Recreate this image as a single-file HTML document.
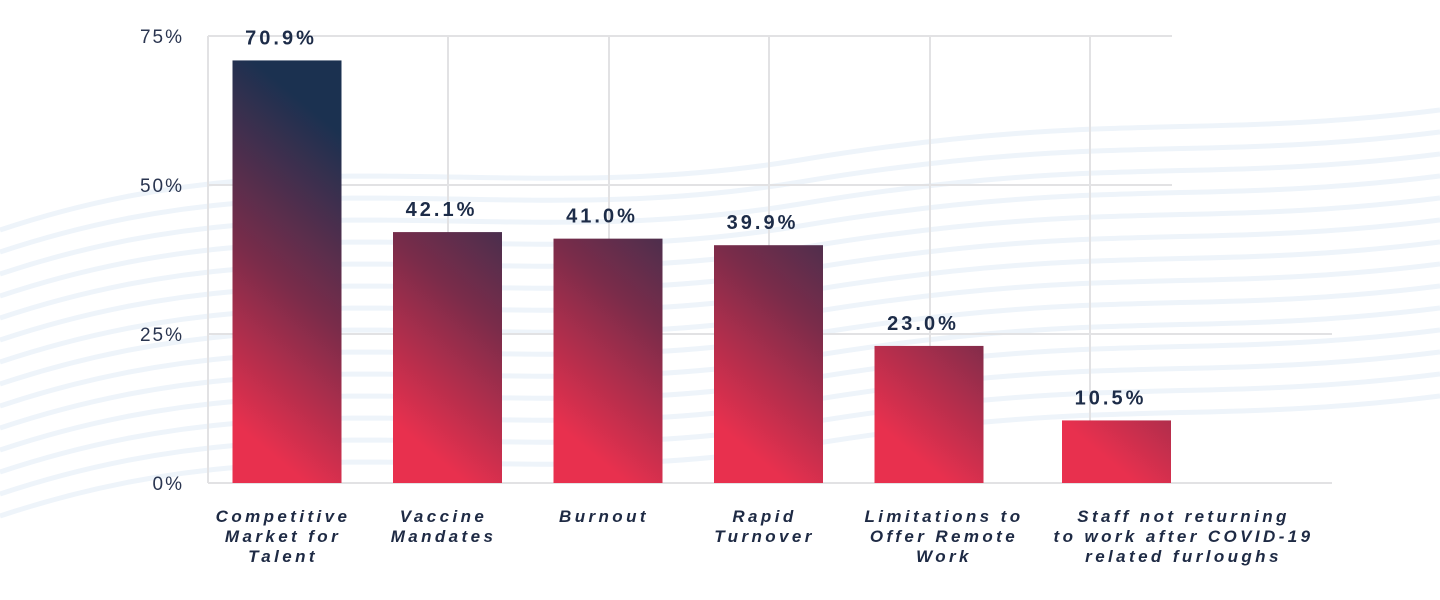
<!DOCTYPE html>
<html><head><meta charset="utf-8"><style>
html,body{margin:0;padding:0;background:#fff;}
svg{display:block;font-family:"Liberation Sans",sans-serif;}
</style></head><body>
<svg id="chart" width="1440" height="600" viewBox="0 0 1440 600">
<g id="bg"></g>
<g id="grid"></g>
<g id="yaxis"></g>
<defs id="defs"></defs>
<g id="bars"></g>
<g id="xaxis"></g>
</svg>
<script>
const categories = [
  ["Competitive","Market for","Talent"],
  ["Vaccine","Mandates"],
  ["Burnout"],
  ["Rapid","Turnover"],
  ["Limitations to","Offer Remote","Work"],
  ["Staff not returning","to work after COVID-19","related furloughs"]
];
const values = [70.9, 42.1, 41.0, 39.9, 23.0, 10.5];
const valueLabels = ["70.9%","42.1%","41.0%","39.9%","23.0%","10.5%"];
const yTicks = [0, 25, 50, 75];
const yTickLabels = ["0%","25%","50%","75%"];

const NS = "http://www.w3.org/2000/svg";
const plotLeft = 208, plotRight = 1332, y0 = 483, yTop = 36, yMax = 75;
const step = 160.5, barW = 109, firstCenter = 287;
function y(v){ return y0 - (v / yMax) * (y0 - yTop); }
function xc(i){ return firstCenter + i * step + (i === categories.length - 1 ? 27 : 0); }
function labelX(i){ return xc(i) + (i === categories.length - 1 ? 67 : (i === 4 ? 15 : -4)); }
function mk(tag, attrs, parent){
  const e = document.createElementNS(NS, tag);
  for (const k in attrs) e.setAttribute(k, attrs[k]);
  parent.appendChild(e);
  return e;
}

// background waves
const bg = document.getElementById('bg');
for (let k = 0; k < 14; k++) {
  const b = 170 + k * 22;
  const p = mk('path', {d:`M0 ${b+60} C 300 ${b-40}, 500 ${b+40}, 800 ${b-10} S 1200 ${b-30}, 1440 ${b-60}`, fill:'none', stroke:'#eef4fa', 'stroke-width':5}, bg);
  
  
}

// grid
const grid = document.getElementById('grid');
const vLines = [208, 448, 609, 769, 930, 1090];
vLines.forEach(x => {
  const l = mk('line', {x1:x, x2:x, y1:yTop, y2:y0, stroke:'#e2e2e4', 'stroke-width':2}, grid);
  
  
});
const yaxis = document.getElementById('yaxis');
yTicks.forEach((t, i) => {
  const right = t <= 25 ? plotRight : 1172;
  const l = mk('line', {x1:plotLeft, x2:right, y1:y(t), y2:y(t), stroke:'#e2e2e4', 'stroke-width':2}, grid);
  
  
  const tx = mk('text', {x:184, y:y(t)+7, 'text-anchor':'end', 'font-size':19, fill:'#2a3550', 'letter-spacing':2}, yaxis);
  tx.textContent = yTickLabels[i];
  
  
});

// bars
const defs = document.getElementById('defs');
const bars = document.getElementById('bars');
const xaxis = document.getElementById('xaxis');
values.forEach((v, i) => {
  const left = xc(i) - barW / 2;
  const g = mk('linearGradient', {id:'g'+i, gradientUnits:'userSpaceOnUse', x1:left, y1:y0, x2:left+216, y2:y0-260}, defs);
  mk('stop', {offset:0, 'stop-color':'#e8304e'}, g);
  mk('stop', {offset:0.14, 'stop-color':'#e8304e'}, g);
  mk('stop', {offset:0.55, 'stop-color':'#7a2c4a'}, g);
  mk('stop', {offset:1, 'stop-color':'#1b3150'}, g);
  const r = mk('rect', {x:left, y:y(v), width:barW, height:y0 - y(v), fill:'url(#g'+i+')'}, bars);
  
  
  const vl = mk('text', {x:xc(i)-6, y:y(v)-16, 'text-anchor':'middle', 'font-size':20, 'font-weight':'bold', fill:'#1d2c48', 'letter-spacing':3}, bars);
  vl.textContent = valueLabels[i];
  
  
  const cl = mk('text', {'text-anchor':'middle', 'font-size':17, 'font-weight':'bold', 'font-style':'italic', fill:'#1e2a44', 'letter-spacing':3.4}, xaxis);
  
  
  categories[i].forEach((line, j) => {
    const ts = mk('tspan', {x:labelX(i), y:522 + j*20}, cl);
    ts.textContent = line;
  });
});
</script>
</body></html>
